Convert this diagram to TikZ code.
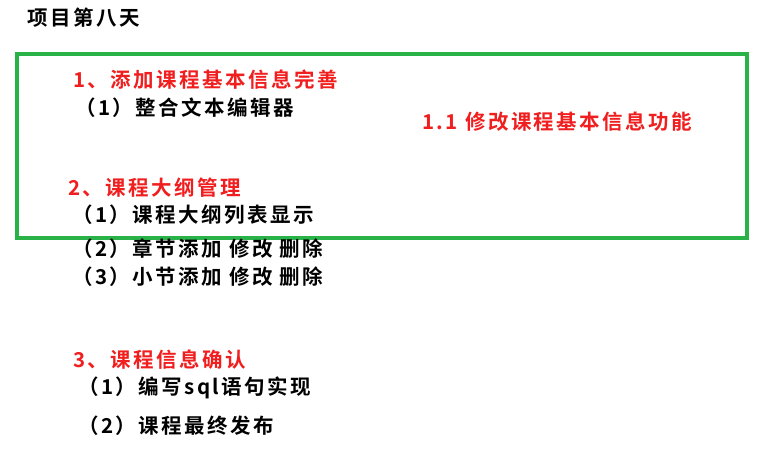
\documentclass[tikz,border=0pt]{standalone}
\usepackage{fontspec}
\setmainfont{Noto Sans CJK SC}[BoldFont=* Bold,LetterSpace=12]
\definecolor{gr}{RGB}{40,178,72}
\definecolor{rd}{RGB}{240,30,30}
\begin{document}
\begin{tikzpicture}[x=1pt,y=-1pt,
  t/.style={anchor=west,inner sep=0pt,font=\fontsize{20.5}{20.5}\selectfont\bfseries},
  r/.style={t,text=rd}]
\useasboundingbox (0,0) rectangle (770,449);
\node[draw=gr,line width=4pt,minimum width=730pt,minimum height=184pt,anchor=north west] (box) at (15,52) {};
\node[t] (title) at (27,18) {项目第八天};
\node[r] (a) at (73,80) {1、添加课程基本信息完善};
\node[t] (a1) at (75,108) {（1）整合文本编辑器};
\node[r] (b) at (422,122) {1.1 修改课程基本信息功能};
\node[r] (c) at (68,188) {2、课程大纲管理};
\node[t] (c1) at (72,215) {（1）课程大纲列表显示};
\node[t] (c2) at (72,249) {（2）章节添加 修改 删除};
\node[t] (c3) at (72,277) {（3）小节添加 修改 删除};
\node[r] (d) at (73,360) {3、课程信息确认};
\node[t] (d1) at (78,388) {（1）编写sql语句实现};
\node[t] (d2) at (78,426) {（2）课程最终发布};
\end{tikzpicture}
\end{document}
